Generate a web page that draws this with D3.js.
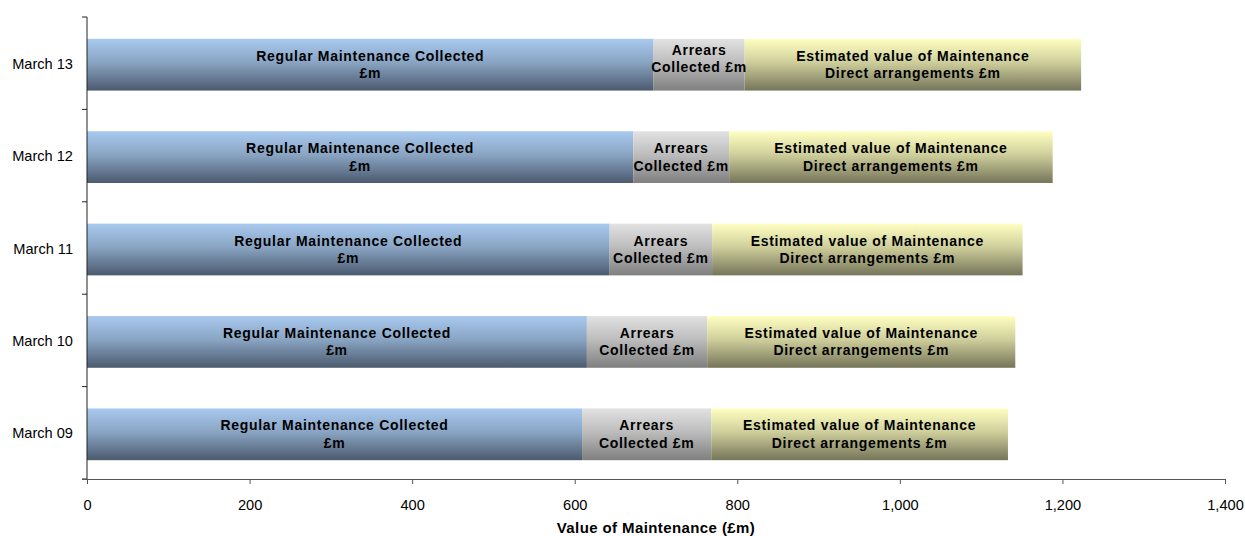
<!DOCTYPE html>
<html>
<head>
<meta charset="utf-8">
<script src="https://cdn.jsdelivr.net/npm/d3@7"></script>
<style>
  html, body { margin: 0; padding: 0; background: #fff; }
  svg { display: block; font-family: Arial, "Liberation Sans", sans-serif; }
</style>
</head>
<body>
<svg id="chart" width="1245" height="536"></svg>
<script>
const categories = ["March 09", "March 10", "March 11", "March 12", "March 13"];
const seriesNames = ["Regular Maintenance Collected £m", "Arrears Collected £m", "Estimated value of Maintenance Direct arrangements £m"];
const seriesLabelLines = [
  ["Regular Maintenance Collected", "£m"],
  ["Arrears", "Collected £m"],
  ["Estimated value of Maintenance", "Direct arrangements £m"]
];
const regularCollected = [609, 615, 643, 672, 697];
const arrearsCollected = [159, 148, 126, 118, 112];
const estimatedDirect  = [365, 379, 382, 398, 414];
const xTicks = [0, 200, 400, 600, 800, 1000, 1200, 1400];
const xTitle = "Value of Maintenance (£m)";

const gradients = [
  { top: "#a8c9ef", mid: "#8aa5c4", bottom: "#4b5a6e" },
  { top: "#e2e2e2", mid: "#bdbdbd", bottom: "#7f7f7f" },
  { top: "#ffffc2", mid: "#cfcf9c", bottom: "#75755a" }
];

const svg = d3.select("#chart");
const plotLeft = 87, plotTop = 17, plotRight = 1225, plotBottom = 479;

const x = d3.scaleLinear().domain([0, 1400]).range([plotLeft, plotRight]);
const y = d3.scaleBand().domain(categories.slice().reverse())
  .range([plotTop + 1.5, plotBottom + 1.5]).paddingInner(0.44).paddingOuter(0.22);

const defs = svg.append("defs");
gradients.forEach((g, i) => {
  const lg = defs.append("linearGradient").attr("id", "grad" + i)
    .attr("x1", 0).attr("y1", 0).attr("x2", 0).attr("y2", 1);
  lg.append("stop").attr("offset", "0%").attr("stop-color", g.top);
  lg.append("stop").attr("offset", "45%").attr("stop-color", g.mid);
  lg.append("stop").attr("offset", "100%").attr("stop-color", g.bottom);
});

const rows = categories.map((c, i) => ({
  cat: c,
  values: [regularCollected[i], arrearsCollected[i], estimatedDirect[i]]
}));

const stacked = d3.stack().keys([0, 1, 2]).value((d, k) => d.values[k])(rows);

const layers = svg.append("g").selectAll("g").data(stacked).join("g")
  .attr("fill", (d, i) => `url(#grad${i})`);

layers.selectAll("rect").data(d => d).join("rect")
  .attr("x", d => x(d[0]))
  .attr("width", d => x(d[1]) - x(d[0]))
  .attr("y", d => y(d.data.cat))
  .attr("height", y.bandwidth());

// labels
stacked.forEach((layer, si) => {
  const g = svg.append("g");
  layer.forEach(d => {
    const cx = (x(d[0]) + x(d[1])) / 2;
    let cy = y(d.data.cat) + y.bandwidth() / 2;
    // narrow segment label in the top bar sits higher in the reference
    if (si === 1 && d.data.cat === "March 13") cy -= 6;
    const t = g.append("text")
      .attr("text-anchor", "middle")
      .attr("font-size", 14)
      .attr("font-weight", "bold")
      .attr("letter-spacing", "0.7px")
      .attr("fill", "#000");
    t.append("tspan").attr("x", cx).attr("y", cy - 4).text(seriesLabelLines[si][0]);
    t.append("tspan").attr("x", cx).attr("y", cy + 13.5).text(seriesLabelLines[si][1]);
  });
});

// y axis
const yBoundaries = d3.range(categories.length + 1).map(i => plotTop + i * (plotBottom - plotTop) / categories.length);
const yAxisG = svg.append("g");
yAxisG.append("line").attr("x1", plotLeft).attr("x2", plotLeft)
  .attr("y1", plotTop).attr("y2", plotBottom).attr("stroke", "#222").attr("stroke-width", 1);
yAxisG.selectAll("line.tk").data(yBoundaries).join("line").attr("class", "tk")
  .attr("x1", plotLeft - 5).attr("x2", plotLeft)
  .attr("y1", d => d).attr("y2", d => d).attr("stroke", "#222");
yAxisG.selectAll("text").data(categories).join("text")
  .attr("x", 73).attr("y", d => y(d) + y.bandwidth() / 2 - 1)
  .attr("dy", "0.35em").attr("text-anchor", "end")
  .attr("font-size", 14.6).attr("fill", "#000").text(d => d);

// x axis
const xAxis = d3.axisBottom(x).tickValues(xTicks).tickSize(5).tickPadding(16)
  .tickFormat(d3.format(","));
const xg = svg.append("g").attr("transform", `translate(0,${plotBottom})`).call(xAxis);
xg.select(".domain").attr("stroke", "#555").attr("d", `M${plotLeft - 5},0.5H${plotRight}`);
xg.selectAll(".tick line").attr("stroke", "#555");
xg.selectAll(".tick text").attr("font-size", 14.6).attr("fill", "#000")
  .attr("font-family", "Arial, 'Liberation Sans', sans-serif");

svg.append("text").attr("x", (plotLeft + plotRight) / 2).attr("y", 533)
  .attr("text-anchor", "middle").attr("font-size", 15).attr("font-weight", "bold")
  .attr("letter-spacing", "0.4px")
  .text(xTitle);
</script>
</body>
</html>
